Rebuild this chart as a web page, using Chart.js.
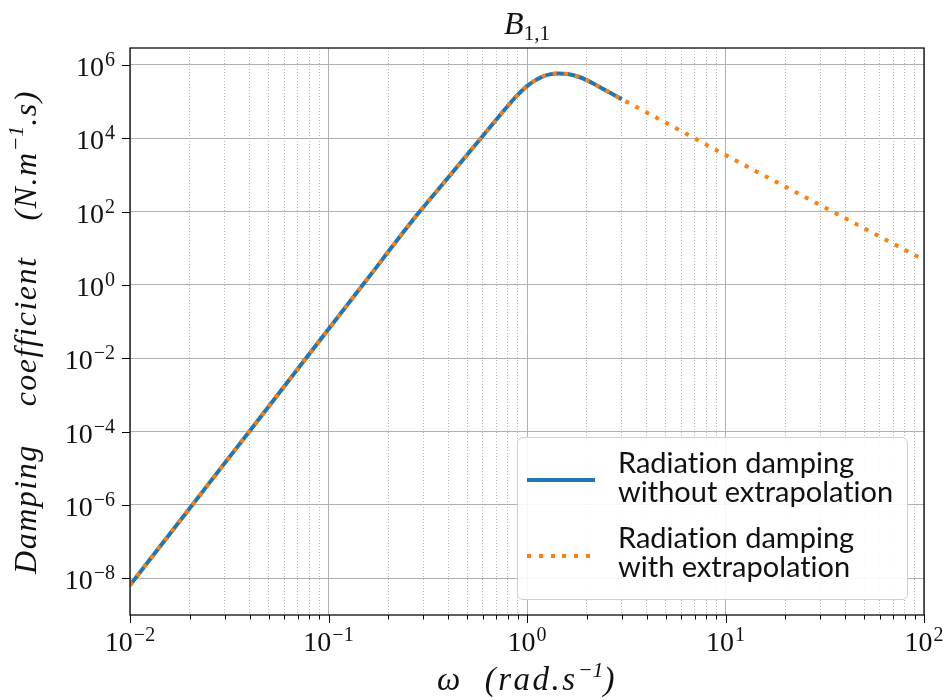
<!DOCTYPE html>
<html>
<head>
<meta charset="utf-8">
<script src="https://cdn.jsdelivr.net/npm/chart.js@4"></script>
<style>
  body { margin: 0; background: #fff; }
  #wrap { position: relative; width: 952px; height: 700px; }
  .serif { position: absolute; font-family: "Liberation Serif", serif; color: #111; white-space: nowrap; }
  #title { left: 130px; width: 794px; top: 8px; text-align: center; font-size: 32px; line-height: 30px; }
  #title sub { font-size: 21px; vertical-align: baseline; position: relative; top: 6px; }
  #xlabel { left: 130px; width: 794px; top: 663px; text-align: center; font-size: 33px; line-height: 33px; font-style: italic; letter-spacing: 2.5px; }
  #ylabel { left: -273px; top: 314px; width: 600px; text-align: center; font-size: 32px; line-height: 33px; font-style: italic; letter-spacing: 1.5px; transform: rotate(-90deg); }
  .serif sup { font-size: 22px; vertical-align: baseline; position: relative; top: -13px; font-style: italic; letter-spacing: 0; }
  #legend {
    position: absolute; left: 517px; top: 437px; width: 389px; height: 161px;
    border: 1px solid #cfcfcf; border-radius: 6px; background: rgba(255,255,255,0.9);
    font-family: Lato, sans-serif; font-size: 29px; line-height: 28.5px; color: #111;
    font-variant-ligatures: none;
  }
  #legend .sample { position: absolute; height: 4px; }
  #legend .text { position: absolute; left: 100px; white-space: nowrap; }
</style>
</head>
<body>
<div id="wrap">
  <canvas id="chart" width="952" height="700"></canvas>
  <div id="title" class="serif"><i>B</i><sub>1,1</sub></div>
  <div id="xlabel" class="serif">ω<span style="margin-left:22px">(rad.s<sup>−1</sup>)</span></div>
  <div id="ylabel" class="serif">Damping<span style="margin-left:38px">coefficient</span><span style="margin-left:36px">(N.m<sup>−1</sup>.s)</span></div>
  <div id="legend">
    <div class="sample" style="left:9px; top:40px; width:68px; background:#1f77b4"></div>
    <div class="text" style="top:10px">Radiation damping<br>without extrapolation</div>
    <div class="sample" style="left:9px; top:116px; width:64px; background:repeating-linear-gradient(to right, #ff7f0e 0 4px, transparent 4px 11.8px)"></div>
    <div class="text" style="top:85px">Radiation damping<br>with extrapolation</div>
  </div>
</div>
<script>
// frequencies (rad/s) and damping values from the BEM run
var omegaComputed = [0.01, 0.02, 0.04, 0.08, 0.15, 0.28, 0.4, 0.6, 0.8, 0.89, 1.0, 1.1, 1.2, 1.3, 1.44, 1.6, 1.8, 2.0, 2.25, 2.5, 3.0];
var bComputed = [6.5e-9, 8.2e-7, 1.03e-4, 1.31e-2, 1.06, 83, 841, 1.17e4, 7.6e4, 1.45e5, 2.64e5, 3.8e5, 4.82e5, 5.53e5, 5.89e5, 5.64e5, 4.84e5, 3.85e5, 2.74e5, 2.01e5, 1.17e5];

// high frequency tail
var omegaTail = [5, 10, 30, 100];
var bTail = [2.67e4, 3.49e3, 151, 4.8];

// decades carry a label, the rest only a dotted grid line
var xTickValues = [0.01, 0.1, 1, 10, 100];
var xTickPowers = ['−2', '−1', '0', '1', '2'];
var xMinorValues = [0.02, 0.03, 0.04, 0.05, 0.06, 0.07, 0.08, 0.09,
                    0.2, 0.3, 0.4, 0.5, 0.6, 0.7, 0.8, 0.9,
                    2, 3, 4, 5, 6, 7, 8, 9,
                    20, 30, 40, 50, 60, 70, 80, 90];
var yTickValues = [1e-8, 1e-6, 1e-4, 1e-2, 1, 1e2, 1e4, 1e6];
var yTickPowers = ['−8', '−6', '−4', '−2', '0', '2', '4', '6'];

function toPoints(xs, ys) {
    var list = [];
    for (var i = 0; i < xs.length; i++) {
        list.push({x: xs[i], y: ys[i]});
    }
    return list;
}

function isMajorX(v) {
    return xTickValues.some(function(m){ return Math.abs(m - v) / m < 1e-9; });
}

// "10" with a raised exponent; align is 'center' or 'right'
function drawPower(ctx, power, x, baseline, align) {
    ctx.font = '28px "Liberation Serif"';
    var wb = ctx.measureText('10').width;
    ctx.font = '20px "Liberation Serif"';
    var we = ctx.measureText(power).width;
    var w = wb + 1 + we;
    var x0 = align === 'right' ? x - w : x - w / 2;
    ctx.font = '28px "Liberation Serif"';
    ctx.fillText('10', x0, baseline);
    ctx.font = '20px "Liberation Serif"';
    ctx.fillText(power, x0 + wb + 1, baseline - 10);
}

// box around the plot, outward tick marks and the tick labels
var frame = {
    id: 'frame',
    afterDraw: function(chart) {
        var ctx = chart.ctx, a = chart.chartArea;
        var sx = chart.scales.x, sy = chart.scales.y;
        ctx.save();
        ctx.strokeStyle = '#000';
        ctx.lineWidth = 1.25;
        ctx.strokeRect(a.left, a.top, a.right - a.left, a.bottom - a.top);
        ctx.beginPath();
        sx.ticks.forEach(function(t){
            var px = Math.round(sx.getPixelForValue(t.value)) + 0.5;
            ctx.moveTo(px, a.bottom);
            ctx.lineTo(px, a.bottom + (isMajorX(t.value) ? 8 : 4.5));
        });
        sy.ticks.forEach(function(t){
            var py = Math.round(sy.getPixelForValue(t.value)) + 0.5;
            ctx.moveTo(a.left - 8, py);
            ctx.lineTo(a.left, py);
        });
        ctx.lineWidth = 1;
        ctx.stroke();

        ctx.fillStyle = '#111';
        ctx.textAlign = 'left';
        ctx.textBaseline = 'alphabetic';
        xTickValues.forEach(function(v, i){
            drawPower(ctx, xTickPowers[i], sx.getPixelForValue(v), a.bottom + 36, 'center');
        });
        yTickValues.forEach(function(v, i){
            drawPower(ctx, yTickPowers[i], a.left - 15, sy.getPixelForValue(v) + 11, 'right');
        });
        ctx.restore();
    }
};

window.addEventListener('load', function(){
    var ctx = document.getElementById('chart').getContext('2d');
    var chart = new Chart(ctx, {
        type: 'line',
        data: {
            datasets: [{
                label: 'Radiation damping without extrapolation',
                data: toPoints(omegaComputed, bComputed),
                borderColor: '#1f77b4',
                borderWidth: 4,
                pointRadius: 0,
                cubicInterpolationMode: 'monotone',
                order: 2
            }, {
                label: 'Radiation damping with extrapolation',
                data: toPoints(omegaComputed.concat(omegaTail), bComputed.concat(bTail)),
                borderColor: '#ff7f0e',
                borderWidth: 4,
                borderDash: [4, 7.3],
                borderCapStyle: 'butt',
                pointRadius: 0,
                cubicInterpolationMode: 'monotone',
                order: 1
            }]
        },
        options: {
            responsive: false,
            animation: false,
            devicePixelRatio: 1,
            layout: { padding: { left: 0, right: 28, top: 48, bottom: 0 } },
            plugins: {
                legend: { display: false },
                tooltip: { enabled: false }
            },
            scales: {
                x: {
                    type: 'logarithmic',
                    min: 0.01,
                    max: 100,
                    bounds: 'data',
                    afterBuildTicks: function(scale) {
                        scale.ticks = xTickValues.concat(xMinorValues)
                            .sort(function(a, b){ return a - b; })
                            .map(function(v){ return {value: v}; });
                    },
                    afterFit: function(scale) { scale.height = 85; },
                    ticks: { display: false, autoSkip: false },
                    grid: {
                        drawTicks: false,
                        lineWidth: 1,
                        color: function(c) {
                            return c.tick && !isMajorX(c.tick.value) ? '#b8b8b8' : '#b0b0b0';
                        }
                    },
                    border: {
                        display: false,
                        dash: function(c) {
                            return c.tick && !isMajorX(c.tick.value) ? [1, 2] : [];
                        }
                    }
                },
                y: {
                    type: 'logarithmic',
                    min: 1e-9,
                    max: 2.9e6,
                    bounds: 'data',
                    afterBuildTicks: function(scale) {
                        scale.ticks = yTickValues.map(function(v){ return {value: v}; });
                    },
                    afterFit: function(scale) { scale.width = 130; },
                    ticks: { display: false, autoSkip: false },
                    grid: { drawTicks: false, lineWidth: 1, color: '#b0b0b0' },
                    border: { display: false }
                }
            }
        },
        plugins: [frame]
    });
});
</script>
</body>
</html>
